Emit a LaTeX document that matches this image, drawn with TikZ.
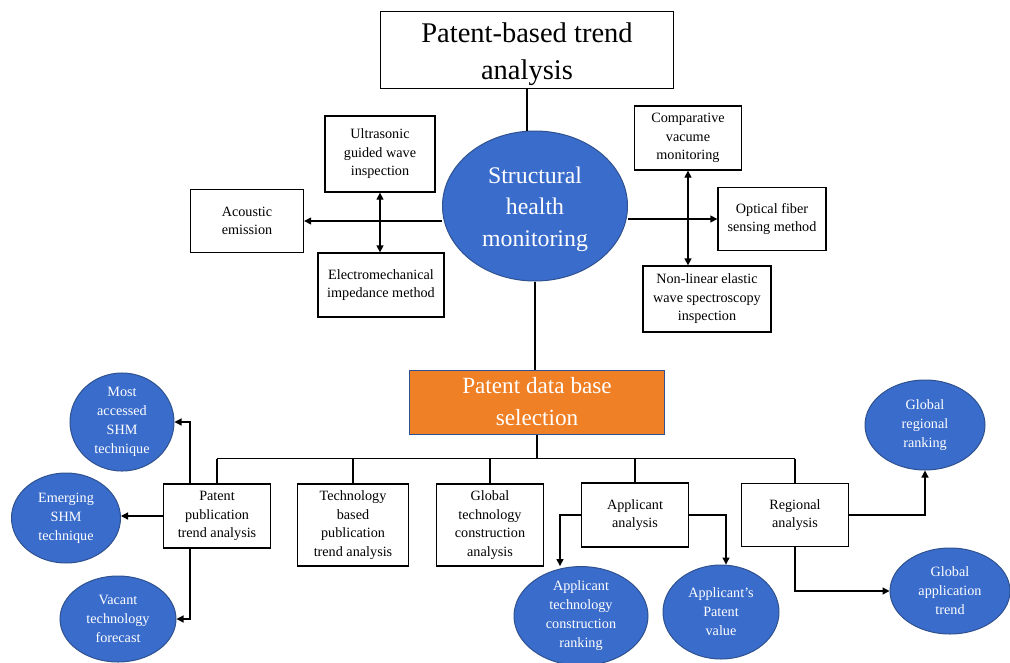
\documentclass[tikz,border=0pt]{standalone}
\usepackage{fontspec}
\setmainfont{Liberation Serif}
\usetikzlibrary{arrows.meta,shapes.geometric}
\definecolor{shmblue}{RGB}{58,108,204}
\definecolor{shmedge}{RGB}{47,82,143}
\definecolor{dborange}{RGB}{240,128,38}

\begin{document}
\begin{tikzpicture}[%
x=1pt, y=-1pt,
box/.style={draw, line width=1.3pt, align=center, inner sep=0pt, font=\fontsize{14.2}{18.5}\selectfont},
bubble/.style={ellipse, draw=shmedge, fill=shmblue, line width=1pt, text=white, align=center, inner sep=0pt, font=\fontsize{14.2}{19}\selectfont},
link/.style={line width=1.3pt},
arr/.style={line width=1.3pt, -{Triangle[length=7pt,width=7pt]}},
both/.style={line width=1.3pt, {Triangle[length=7pt,width=7pt]}-{Triangle[length=7pt,width=7pt]}},
]
\useasboundingbox (0,0) rectangle (1010,662);
%% top;
\node[box, minimum width=293pt, minimum height=77pt, font=\fontsize{28.5}{37}\selectfont] (top) at (527,50) {\rule{0pt}{28pt}Patent-based trend\\analysis};
\node[bubble, minimum width=185pt, minimum height=150pt, font=\fontsize{23.8}{31.5}\selectfont] (shm) at (535,206) {\rule{0pt}{23pt}Structural\\health\\monitoring};
%% techniques;
\node[box, minimum width=110pt, minimum height=76pt] (ultra) at (380,154) {Ultrasonic\\guided wave\\inspection};
\node[box, minimum width=113pt, minimum height=63pt] (acoustic) at (247,221) {Acoustic\\emission};
\node[box, minimum width=126pt, minimum height=64pt] (electro) at (381,285) {Electromechanical\\impedance method};
\node[box, minimum width=107pt, minimum height=64pt] (comp) at (688,138) {Comparative\\vacume\\monitoring};
\node[box, minimum width=108pt, minimum height=63pt] (optical) at (772,219) {Optical fiber\\sensing method};
\node[box, minimum width=128pt, minimum height=66pt] (nonlin) at (707,299) {Non-linear elastic\\wave spectroscopy\\inspection};
%% data base;
\node[draw=shmedge, fill=dborange, line width=1pt, text=white, align=center, inner sep=0pt, minimum width=255pt, minimum height=64pt, font=\fontsize{23.2}{32}\selectfont] (base) at (537,402) {Patent data base\\selection};
%% analyses;
\node[box, minimum width=107pt, minimum height=64pt] (pub) at (217,516) {Patent\\publication\\trend analysis};
\node[box, minimum width=111pt, minimum height=82pt] (tech) at (353,525) {Technology\\based\\publication\\trend analysis};
\node[box, minimum width=107pt, minimum height=82pt] (glob) at (490,525) {Global\\technology\\construction\\analysis};
\node[box, minimum width=107pt, minimum height=64pt] (appl) at (635,515) {Applicant\\analysis};
\node[box, minimum width=107pt, minimum height=63pt] (reg) at (795,515) {Regional\\analysis};
%% outcomes;
\node[bubble, minimum width=104pt, minimum height=92pt] (most) at (122,422) {Most\\accessed\\SHM\\technique};
\node[bubble, minimum width=109pt, minimum height=90pt] (emerg) at (66,518) {Emerging\\SHM\\technique};
\node[bubble, minimum width=116pt, minimum height=86pt] (vacant) at (118,619) {Vacant\\technology\\forecast};
\node[bubble, minimum width=134pt, minimum height=92pt] (atcr) at (581,616) {Applicant\\technology\\construction\\ranking};
\node[bubble, minimum width=116pt, minimum height=94pt] (apv) at (721,612) {Applicant’s\\Patent\\value};
\node[bubble, minimum width=120pt, minimum height=90pt] (grr) at (925,425) {Global\\regional\\ranking};
\node[bubble, minimum width=120pt, minimum height=86pt] (gat) at (950,591) {Global\\application\\trend};
%% connectors;
\draw[link] (top.south) -- (top.south |- shm.north);
\draw[arr] (shm.west |- acoustic.east) -- (acoustic.east);
\draw[arr] (shm.east |- optical.west) -- (optical.west);
\draw[both] (ultra.south) -- (ultra.south |- electro.north);
\draw[both] (comp.south) -- (comp.south |- nonlin.north);
\draw[link] (shm.south) -- (shm.south |- base.north);
\draw[link] (base.south) -- ++(0,24) coordinate (bus);
\draw[link] (pub.north |- bus) -- (reg.north |- bus);
\foreach \n in {pub,tech,glob,appl,reg}
  \draw[link] (\n.north) -- (\n.north |- bus);
\draw[arr] ([xshift=-27pt]pub.north) |- (most.east);
\draw[arr] (pub.west) -- (pub.west -| emerg.east);
\draw[arr] ([xshift=-27pt]pub.south) |- (vacant.east);
\draw[arr] (appl.west) -| ([xshift=-21pt]atcr.north);
\draw[arr] (appl.east) -| ([xshift=5pt]apv.north);
\draw[arr] (reg.east) -| (grr.south);
\draw[arr] (reg.south) |- (gat.west);
\end{tikzpicture}
\end{document}
